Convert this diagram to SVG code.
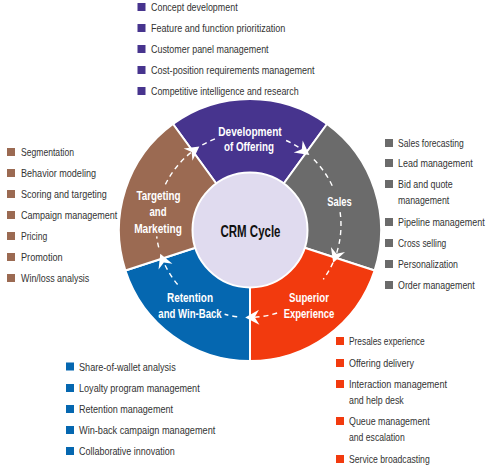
<svg xmlns="http://www.w3.org/2000/svg" width="494" height="468" viewBox="0 0 494 468">
<defs>
<style>
.seg{stroke:#fff;stroke-width:2;stroke-linejoin:round}
.lbl{font-family:"Liberation Sans Narrow","Liberation Sans",Arial,sans-serif;font-weight:bold;font-size:13.5px;fill:#fff;text-anchor:middle}
.core{font-family:"Liberation Sans Narrow","Liberation Sans",Arial,sans-serif;font-weight:bold;font-size:16.5px;fill:#111;text-anchor:middle}
.item{font-family:"Liberation Sans Narrow","Liberation Sans",Arial,sans-serif;font-size:11px;fill:#333}
.dash{fill:none;stroke:#fff;stroke-width:1.4;stroke-dasharray:5 4}
.pur{fill:#47348e}.gry{fill:#6b6b6b}.red{fill:#f23a0e}.blu{fill:#0567b0}.brn{fill:#9b6a52}
</style>
<marker id="ah" viewBox="-9 -9 18 18" refX="0" refY="0" markerWidth="18" markerHeight="18" markerUnits="userSpaceOnUse" orient="auto">
<path d="M6.5,0 L-7.5,-7.5 L-3,0 L-7.5,7.5 Z" fill="#fff"/>
</marker>
</defs>
<rect width="494" height="468" fill="#fff"/>

<g id="development">
<path class="seg pur" d="M250,230 L173,124 A131,131 0 0 1 327,124 Z"/>
<text class="lbl" x="250" y="135.5" textLength="63.5" lengthAdjust="spacingAndGlyphs">Development</text>
<text class="lbl" x="249" y="151" textLength="50" lengthAdjust="spacingAndGlyphs">of Offering</text>
<rect class="pur" x="137.5" y="3" width="8" height="8"/>
<rect class="pur" x="137.5" y="24" width="8" height="8"/>
<rect class="pur" x="137.5" y="45" width="8" height="8"/>
<rect class="pur" x="137.5" y="66" width="8" height="8"/>
<rect class="pur" x="137.5" y="87" width="8" height="8"/>
<text class="item" x="151" y="11" textLength="86.6" lengthAdjust="spacingAndGlyphs">Concept development</text>
<text class="item" x="151" y="32" textLength="134.3" lengthAdjust="spacingAndGlyphs">Feature and function prioritization</text>
<text class="item" x="151" y="53" textLength="117.6" lengthAdjust="spacingAndGlyphs">Customer panel management</text>
<text class="item" x="151" y="74" textLength="163.6" lengthAdjust="spacingAndGlyphs">Cost-position requirements management</text>
<text class="item" x="151" y="95" textLength="147.6" lengthAdjust="spacingAndGlyphs">Competitive intelligence and research</text>
</g>

<g id="sales">
<path class="seg gry" d="M250,230 L327,124 A131,131 0 0 1 374.6,270.5 Z"/>
<text class="lbl" x="339.5" y="205.5" textLength="24.5" lengthAdjust="spacingAndGlyphs">Sales</text>
<rect class="gry" x="385" y="139" width="8" height="8"/>
<rect class="gry" x="385" y="159" width="8" height="8"/>
<rect class="gry" x="385" y="180" width="8" height="8"/>
<rect class="gry" x="385" y="218" width="8" height="8"/>
<rect class="gry" x="385" y="239" width="8" height="8"/>
<rect class="gry" x="385" y="260" width="8" height="8"/>
<rect class="gry" x="385" y="281" width="8" height="8"/>
<text class="item" x="398" y="147" textLength="65.7" lengthAdjust="spacingAndGlyphs">Sales forecasting</text>
<text class="item" x="398" y="167" textLength="74.7" lengthAdjust="spacingAndGlyphs">Lead management</text>
<text class="item" x="398" y="188" textLength="54.7" lengthAdjust="spacingAndGlyphs">Bid and quote</text>
<text class="item" x="398" y="204" textLength="51.3" lengthAdjust="spacingAndGlyphs">management</text>
<text class="item" x="398" y="226" textLength="86.7" lengthAdjust="spacingAndGlyphs">Pipeline management</text>
<text class="item" x="398" y="247" textLength="48.3" lengthAdjust="spacingAndGlyphs">Cross selling</text>
<text class="item" x="398" y="268" textLength="60" lengthAdjust="spacingAndGlyphs">Personalization</text>
<text class="item" x="398" y="289" textLength="76.7" lengthAdjust="spacingAndGlyphs">Order management</text>
</g>

<g id="experience">
<path class="seg red" d="M250,230 L374.6,270.5 A131,131 0 0 1 250,361 Z"/>
<text class="lbl" x="309" y="301.5" textLength="40" lengthAdjust="spacingAndGlyphs">Superior</text>
<text class="lbl" x="309" y="318" textLength="50.7" lengthAdjust="spacingAndGlyphs">Experience</text>
<rect class="red" x="336" y="337" width="8" height="8"/>
<rect class="red" x="336" y="359" width="8" height="8"/>
<rect class="red" x="336" y="380" width="8" height="8"/>
<rect class="red" x="336" y="417" width="8" height="8"/>
<rect class="red" x="336" y="455" width="8" height="8"/>
<text class="item" x="349" y="345" textLength="75.7" lengthAdjust="spacingAndGlyphs">Presales experience</text>
<text class="item" x="349" y="367" textLength="65" lengthAdjust="spacingAndGlyphs">Offering delivery</text>
<text class="item" x="349" y="388" textLength="98" lengthAdjust="spacingAndGlyphs">Interaction management</text>
<text class="item" x="349" y="404" textLength="54.7" lengthAdjust="spacingAndGlyphs">and help desk</text>
<text class="item" x="349" y="425" textLength="80.7" lengthAdjust="spacingAndGlyphs">Queue management</text>
<text class="item" x="349" y="441" textLength="55.7" lengthAdjust="spacingAndGlyphs">and escalation</text>
<text class="item" x="349" y="463" textLength="80.7" lengthAdjust="spacingAndGlyphs">Service broadcasting</text>
</g>

<g id="retention">
<path class="seg blu" d="M250,230 L250,361 A131,131 0 0 1 125.4,270.5 Z"/>
<text class="lbl" x="190" y="301.5" textLength="46" lengthAdjust="spacingAndGlyphs">Retention</text>
<text class="lbl" x="190" y="318" textLength="63.3" lengthAdjust="spacingAndGlyphs">and Win-Back</text>
<rect class="blu" x="66" y="362.5" width="8" height="8"/>
<rect class="blu" x="66" y="384" width="8" height="8"/>
<rect class="blu" x="66" y="405" width="8" height="8"/>
<rect class="blu" x="66" y="426" width="8" height="8"/>
<rect class="blu" x="66" y="447" width="8" height="8"/>
<text class="item" x="79" y="370.5" textLength="96.7" lengthAdjust="spacingAndGlyphs">Share-of-wallet analysis</text>
<text class="item" x="79" y="392" textLength="120.7" lengthAdjust="spacingAndGlyphs">Loyalty program management</text>
<text class="item" x="79" y="413" textLength="94" lengthAdjust="spacingAndGlyphs">Retention management</text>
<text class="item" x="79" y="434" textLength="136.3" lengthAdjust="spacingAndGlyphs">Win-back campaign management</text>
<text class="item" x="79" y="455" textLength="95.7" lengthAdjust="spacingAndGlyphs">Collaborative innovation</text>
</g>

<g id="targeting">
<path class="seg brn" d="M250,230 L125.4,270.5 A131,131 0 0 1 173,124 Z"/>
<text class="lbl" x="158.5" y="200" textLength="44" lengthAdjust="spacingAndGlyphs">Targeting</text>
<text class="lbl" x="158" y="216" textLength="17" lengthAdjust="spacingAndGlyphs">and</text>
<text class="lbl" x="158" y="232.5" textLength="47.7" lengthAdjust="spacingAndGlyphs">Marketing</text>
<rect class="brn" x="7" y="148" width="8" height="8"/>
<rect class="brn" x="7" y="169" width="8" height="8"/>
<rect class="brn" x="7" y="190" width="8" height="8"/>
<rect class="brn" x="7" y="211" width="8" height="8"/>
<rect class="brn" x="7" y="232" width="8" height="8"/>
<rect class="brn" x="7" y="253" width="8" height="8"/>
<rect class="brn" x="7" y="274" width="8" height="8"/>
<text class="item" x="21" y="156" textLength="53" lengthAdjust="spacingAndGlyphs">Segmentation</text>
<text class="item" x="21" y="177" textLength="75" lengthAdjust="spacingAndGlyphs">Behavior modeling</text>
<text class="item" x="21" y="198" textLength="85.7" lengthAdjust="spacingAndGlyphs">Scoring and targeting</text>
<text class="item" x="21" y="219" textLength="96.3" lengthAdjust="spacingAndGlyphs">Campaign management</text>
<text class="item" x="21" y="240" textLength="26.3" lengthAdjust="spacingAndGlyphs">Pricing</text>
<text class="item" x="21" y="261" textLength="41.7" lengthAdjust="spacingAndGlyphs">Promotion</text>
<text class="item" x="21" y="282" textLength="68.3" lengthAdjust="spacingAndGlyphs">Win/loss analysis</text>
</g>

<g id="crm-cycle">
<circle cx="250" cy="230" r="57.5" fill="#e0dbef" stroke="#fff" stroke-width="2"/>
<text class="core" x="250.5" y="236.5" textLength="60" lengthAdjust="spacingAndGlyphs">CRM Cycle</text>
</g>

<g id="connectors">
<path class="dash" d="M286.1,140.5 A92.5,92.5 0 0 1 304.2,151.1" marker-end="url(#ah)"/>
<path class="dash" d="M313.9,159.6 A92.5,92.5 0 0 1 332.3,185.9"/>
<path class="dash" d="M340.1,212.1 A92.5,92.5 0 0 1 335.4,256.6" marker-end="url(#ah)"/>
<path class="dash" d="M333,262.6 A92.5,92.5 0 0 1 323.3,279.4"/>
<path class="dash" d="M277.1,313 A92.5,92.5 0 0 1 251.7,317.4" marker-end="url(#ah)"/>
<path class="dash" d="M237.2,316.8 A92.5,92.5 0 0 1 224.6,314.3"/>
<path class="dash" d="M177.6,284.5 A92.5,92.5 0 0 1 162.7,259.7" marker-end="url(#ah)"/>
<path class="dash" d="M158.7,247.4 A92.5,92.5 0 0 1 156.7,236.3"/>
<path class="dash" d="M165.4,184.4 A92.5,92.5 0 0 1 194.1,150.2" marker-end="url(#ah)"/>
<path class="dash" d="M202.3,144.9 A92.5,92.5 0 0 1 216.9,138.1"/>
</g>
</svg>
